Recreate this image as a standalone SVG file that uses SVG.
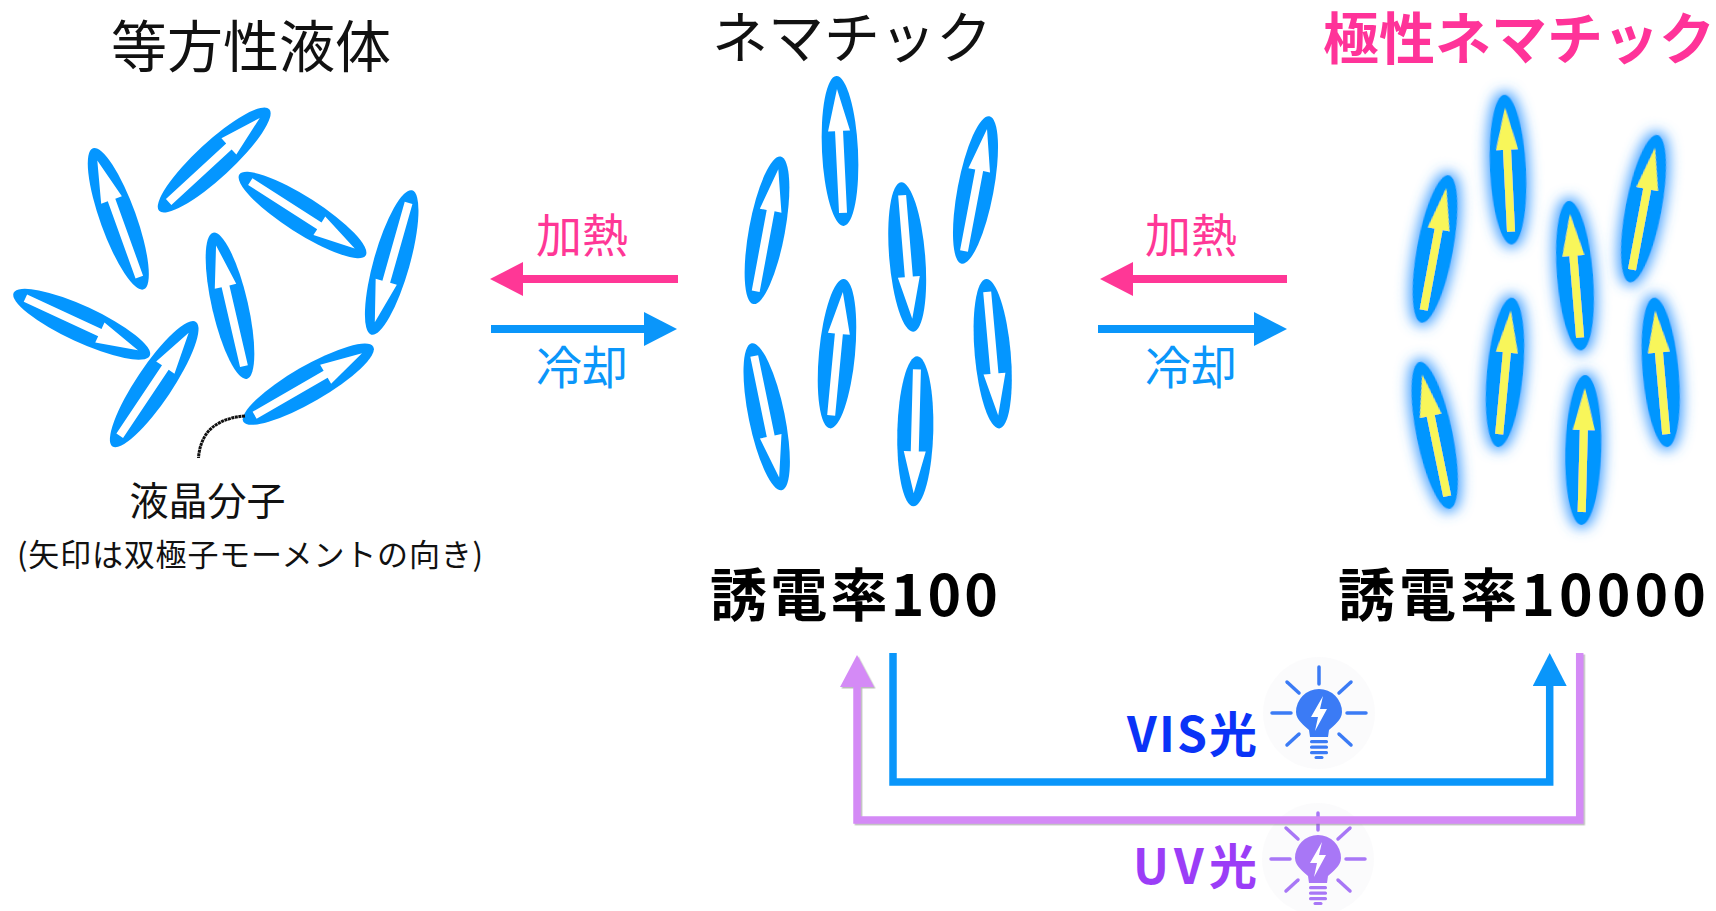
<svg xmlns="http://www.w3.org/2000/svg" xmlns:xlink="http://www.w3.org/1999/xlink" width="1716" height="911" viewBox="0 0 1716 911">
  <style>
    text { font-family: "Noto Sans CJK JP", "Noto Sans", sans-serif; }
    .title { font-size: 56px; fill: #111; }
    .title-pol { font-size: 56px; font-weight: 700; fill: #FF3399; }
    .heat { font-size: 46px; fill: #FF3796; }
    .cool { font-size: 46px; fill: #0A96FA; }
    .eps { font-size: 57px; font-weight: 700; fill: #000; }
    .note { fill: #111; }
    .body { fill: #0496FF; }
    .dip-w { fill: #FFFFFF; }
    .dip-y { fill: #F8F65A; }
    .vis { font-size: 48px; font-weight: 700; fill: #0A33F7; }
    .uv { font-size: 48px; font-weight: 700; fill: #9B3DF7; }
    .ray { stroke-width: 3.5; stroke-linecap: round; fill: none; }
    .solid { stroke: none; }
  </style>
  <defs>
    <!-- rod-like molecule and its dipole arrow, both pointing up in local coords -->
    <ellipse id="rod" rx="18" ry="75"/>
    <polygon id="dipole" points="0,-62 11,-20 4,-20 4,62 -4,62 -4,-20 -11,-20"/>

    <!-- glow around the polar molecules -->
    <filter id="glow" x="-80%" y="-40%" width="260%" height="180%">
      <feMorphology in="SourceAlpha" operator="dilate" radius="3" result="d"/>
      <feGaussianBlur in="d" stdDeviation="6.5" result="b"/>
      <feFlood flood-color="#3F9EFF" flood-opacity="0.95"/>
      <feComposite in2="b" operator="in" result="g"/>
      <feMerge><feMergeNode in="g"/><feMergeNode in="SourceGraphic"/></feMerge>
    </filter>
    <filter id="shadow" x="-5%" y="-5%" width="110%" height="120%">
      <feDropShadow dx="1.5" dy="1.5" stdDeviation="0.6" flood-color="#777" flood-opacity="0.5"/>
    </filter>

    <marker id="head-pink" markerUnits="userSpaceOnUse" markerWidth="34" markerHeight="34" refX="0" refY="17" orient="auto" viewBox="0 0 34 34">
      <path d="M0,0 L33,17 L0,34 Z" fill="#FF3796"/>
    </marker>
    <marker id="head-blue" markerUnits="userSpaceOnUse" markerWidth="34" markerHeight="34" refX="0" refY="17" orient="auto" viewBox="0 0 34 34">
      <path d="M0,0 L33,17 L0,34 Z" fill="#0A96FA"/>
    </marker>
    <marker id="head-purple" markerUnits="userSpaceOnUse" markerWidth="34" markerHeight="34" refX="0" refY="17" orient="auto" viewBox="0 0 34 34">
      <path d="M0,0 L32,17 L0,34 Z" fill="#D48AF6"/>
    </marker>

    <!-- light bulb icon, centred on the bulb -->
    <g id="bulb">
      <circle class="solid" r="56" fill="#FAFAFB" opacity="0.8"/>
      <line class="ray" x1="0" y1="-46" x2="0" y2="-29"/>
      <line class="ray" x1="-47" y1="0" x2="-28" y2="0"/>
      <line class="ray" x1="28" y1="0" x2="47" y2="0"/>
      <line class="ray" x1="-32" y1="-31" x2="-20" y2="-20"/>
      <line class="ray" x1="20" y1="-20" x2="32" y2="-31"/>
      <line class="ray" x1="-32" y1="32" x2="-20" y2="21"/>
      <line class="ray" x1="20" y1="21" x2="32" y2="32"/>
      <path class="solid" d="M-9,24 L-10,17 C-14,13 -23,7 -23,-1 A23,23 0 1 1 23,-1 C23,7 14,13 10,17 L9,24 Z"/>
      <path class="solid" d="M4,-17 L-8,4 L-1,4 L-4,18 L8,-4 L1,-4 Z" fill="#FFFFFF"/>
      <g class="solid">
        <rect x="-9" y="27" width="18" height="3.2" rx="1.5"/>
        <rect x="-9" y="32.5" width="18" height="3.2" rx="1.5"/>
        <rect x="-9" y="38" width="18" height="3.2" rx="1.5"/>
        <rect x="-4.5" y="43" width="9" height="3" rx="1.5"/>
      </g>
    </g>
  </defs>

  <rect width="1716" height="911" fill="#FFFFFF"/>

  <!-- titles -->
  <g id="label-isotropic"><text class="title" x="251" y="67" text-anchor="middle">等方性液体</text></g>
  <g id="label-nematic"><text class="title" x="852" y="58" text-anchor="middle">ネマチック</text></g>
  <g id="label-polar"><text class="title-pol" x="1519" y="59" text-anchor="middle">極性ネマチック</text></g>

  <!-- isotropic liquid: randomly oriented molecules -->
  <g id="isotropic">
    <g id="iso-1" transform="translate(118.3,218.8) rotate(-19.8)"><use href="#rod" class="body"/><use href="#dipole" class="dip-w"/></g>
    <g id="iso-2" transform="translate(214.2,160) rotate(47.3)"><use href="#rod" class="body"/><use href="#dipole" class="dip-w"/></g>
    <g id="iso-3" transform="translate(302.5,215) rotate(122.6)"><use href="#rod" class="body"/><use href="#dipole" class="dip-w"/></g>
    <g id="iso-4" transform="translate(391.7,262.5) rotate(195.8)"><use href="#rod" class="body"/><use href="#dipole" class="dip-w"/></g>
    <g id="iso-5" transform="translate(230,305.8) rotate(-13)"><use href="#rod" class="body"/><use href="#dipole" class="dip-w"/></g>
    <g id="iso-6" transform="translate(81.7,324.2) rotate(114.8)"><use href="#rod" class="body"/><use href="#dipole" class="dip-w"/></g>
    <g id="iso-7" transform="translate(154.2,384.2) rotate(33.8)"><use href="#rod" class="body"/><use href="#dipole" class="dip-w"/></g>
    <g id="iso-8" transform="translate(308.3,384.2) rotate(60)"><use href="#rod" class="body"/><use href="#dipole" class="dip-w"/></g>
  </g>

  <!-- pointer to one molecule -->
  <g id="molecule-callout">
    <path d="M245,416 C228,417 212,424 205,436 C201,443 199,450 198.5,458" fill="none" stroke="#111" stroke-width="3" stroke-dasharray="3 0.6"/>
    <text class="note" x="207.5" y="515" text-anchor="middle" font-size="39">液晶分子</text>
    <text class="note" x="250" y="566" text-anchor="middle" font-size="31" textLength="466">(矢印は双極子モーメントの向き)</text>
  </g>

  <!-- nematic: aligned axes, random dipole sense -->
  <g id="nematic">
    <g id="nem-1" transform="translate(840,151) rotate(-2.8)"><use href="#rod" class="body"/><use href="#dipole" class="dip-w"/></g>
    <g id="nem-2" transform="translate(767,230.3) rotate(10.5)"><use href="#rod" class="body"/><use href="#dipole" class="dip-w"/></g>
    <g id="nem-3" transform="translate(907.2,257) rotate(175.3)"><use href="#rod" class="body"/><use href="#dipole" class="dip-w"/></g>
    <g id="nem-4" transform="translate(975.5,190) rotate(10.7)"><use href="#rod" class="body"/><use href="#dipole" class="dip-w"/></g>
    <g id="nem-5" transform="translate(766.7,416.7) rotate(168.4)"><use href="#rod" class="body"/><use href="#dipole" class="dip-w"/></g>
    <g id="nem-6" transform="translate(837,353.7) rotate(5.4)"><use href="#rod" class="body"/><use href="#dipole" class="dip-w"/></g>
    <g id="nem-7" transform="translate(915.3,431.3) rotate(181.5)"><use href="#rod" class="body"/><use href="#dipole" class="dip-w"/></g>
    <g id="nem-8" transform="translate(992.7,353.7) rotate(174.9)"><use href="#rod" class="body"/><use href="#dipole" class="dip-w"/></g>
  </g>

  <!-- polar nematic: all dipoles point the same way -->
  <g id="polar-nematic">
    <g id="pol-1" filter="url(#glow)" transform="translate(1508,169.7) rotate(-2.8)"><use href="#rod" class="body"/><use href="#dipole" class="dip-y"/></g>
    <g id="pol-2" filter="url(#glow)" transform="translate(1435,249) rotate(10.5)"><use href="#rod" class="body"/><use href="#dipole" class="dip-y"/></g>
    <g id="pol-3" filter="url(#glow)" transform="translate(1575,275.7) rotate(-4.7)"><use href="#rod" class="body"/><use href="#dipole" class="dip-y"/></g>
    <g id="pol-4" filter="url(#glow)" transform="translate(1643.5,208.7) rotate(10.7)"><use href="#rod" class="body"/><use href="#dipole" class="dip-y"/></g>
    <g id="pol-5" filter="url(#glow)" transform="translate(1434.7,435.4) rotate(-11.6)"><use href="#rod" class="body"/><use href="#dipole" class="dip-y"/></g>
    <g id="pol-6" filter="url(#glow)" transform="translate(1505,372.4) rotate(5.4)"><use href="#rod" class="body"/><use href="#dipole" class="dip-y"/></g>
    <g id="pol-7" filter="url(#glow)" transform="translate(1583.3,450) rotate(1.5)"><use href="#rod" class="body"/><use href="#dipole" class="dip-y"/></g>
    <g id="pol-8" filter="url(#glow)" transform="translate(1660.7,372.4) rotate(-5.1)"><use href="#rod" class="body"/><use href="#dipole" class="dip-y"/></g>
  </g>

  <!-- dielectric constants -->
  <g id="eps-nematic"><text class="eps" x="710" y="616" textLength="288">誘電率100</text></g>
  <g id="eps-polar"><text class="eps" x="1338" y="616" textLength="368">誘電率10000</text></g>

  <!-- transition labels -->
  <g id="label-heat-1"><text class="heat" x="582" y="252" text-anchor="middle">加熱</text></g>
  <g id="label-cool-1"><text class="cool" x="582" y="384" text-anchor="middle">冷却</text></g>
  <g id="label-heat-2"><text class="heat" x="1191" y="252" text-anchor="middle">加熱</text></g>
  <g id="label-cool-2"><text class="cool" x="1191" y="384" text-anchor="middle">冷却</text></g>

  <!-- light switching labels and icons -->
  <g id="label-vis">
    <text class="vis" x="1127" y="752" textLength="130">VIS光</text>
    <use href="#bulb" transform="translate(1319,713)" fill="#3B7BF5" stroke="#3B7BF5"/>
  </g>
  <g id="label-uv">
    <text class="uv" x="1133" y="884" textLength="124">UV光</text>
    <use href="#bulb" transform="translate(1318,859)" fill="#A877F6" stroke="#A877F6"/>
  </g>

  <!-- connectors -->
  <g id="connectors" fill="none">
    <line x1="678" y1="279" x2="523" y2="279" stroke="#FF3796" stroke-width="8" marker-end="url(#head-pink)"/>
    <line x1="491" y1="329" x2="644" y2="329" stroke="#0A96FA" stroke-width="8" marker-end="url(#head-blue)"/>
    <line x1="1287" y1="279" x2="1133" y2="279" stroke="#FF3796" stroke-width="8" marker-end="url(#head-pink)"/>
    <line x1="1098" y1="329" x2="1254" y2="329" stroke="#0A96FA" stroke-width="8" marker-end="url(#head-blue)"/>
    <!-- visible light: nematic -> polar nematic -->
    <polyline points="893,653 893,782 1549.7,782 1549.7,686" stroke="#0A96FA" stroke-width="7.5" marker-end="url(#head-blue)"/>
    <!-- UV light: polar nematic -> nematic -->
    <polyline points="1579.7,653 1579.7,820 857,820 857,687" stroke="#D48AF6" stroke-width="7.5" filter="url(#shadow)" marker-end="url(#head-purple)"/>
  </g>
</svg>
